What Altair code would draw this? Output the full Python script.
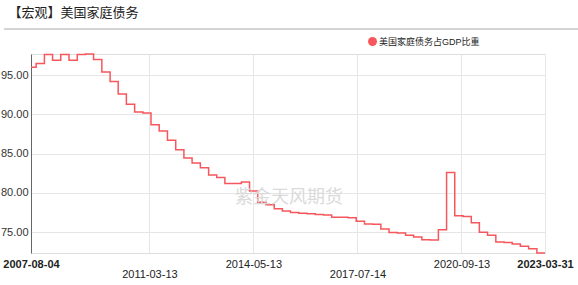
import altair as alt
import pandas as pd

title_text = "【宏观】美国家庭债务"
series_name = "美国家庭债务占GDP比重"
watermark = "紫金天风期货"

dates = [
    "2007-08-04", "2007-09-30", "2007-12-31",
    "2008-03-31", "2008-06-30", "2008-09-30", "2008-12-31",
    "2009-03-31", "2009-06-30", "2009-09-30", "2009-12-31",
    "2010-03-31", "2010-06-30", "2010-09-30", "2010-12-31",
    "2011-03-31", "2011-06-30", "2011-09-30", "2011-12-31",
    "2012-03-31", "2012-06-30", "2012-09-30", "2012-12-31",
    "2013-03-31", "2013-06-30", "2013-09-30", "2013-12-31",
    "2014-03-31", "2014-06-30", "2014-09-30", "2014-12-31",
    "2015-03-31", "2015-06-30", "2015-09-30", "2015-12-31",
    "2016-03-31", "2016-06-30", "2016-09-30", "2016-12-31",
    "2017-03-31", "2017-06-30", "2017-09-30", "2017-12-31",
    "2018-03-31", "2018-06-30", "2018-09-30", "2018-12-31",
    "2019-03-31", "2019-06-30", "2019-09-30", "2019-12-31",
    "2020-03-31", "2020-06-30", "2020-09-30", "2020-12-31",
    "2021-03-31", "2021-06-30", "2021-09-30", "2021-12-31",
    "2022-03-31", "2022-06-30", "2022-09-30", "2022-12-31",
    "2023-03-31",
]
values = [
    96.0, 96.5, 97.65,
    96.9, 97.65, 96.9, 97.65,
    97.7, 97.0, 95.4, 94.2,
    92.6, 91.3, 90.3, 90.2,
    88.7, 87.9, 86.7, 85.5,
    84.45, 83.8, 83.2, 82.3,
    81.96, 81.2, 81.2, 81.4,
    80.25, 78.8, 78.5, 78.0,
    77.7, 77.5, 77.4, 77.35,
    77.25, 77.2, 76.9, 76.9,
    76.85, 76.4, 76.05, 76.0,
    75.4, 74.95, 74.9, 74.6,
    74.4, 74.05, 74.0, 75.3,
    82.6, 77.1, 77.0, 76.2,
    75.0, 74.6, 73.75, 73.7,
    73.5, 73.2, 72.9, 72.35,
    72.35,
]
tick_dates = ["2007-08-04", "2011-03-13", "2014-05-13", "2017-07-14", "2020-09-13", "2023-03-31"]
y_ticks = [75, 80, 85, 90, 95]

df = pd.DataFrame({"date": dates, "value": values, "series": series_name})

def dt(s):
    y, m, d = (int(p) for p in s.split("-"))
    return alt.DateTime(year=y, month=m, date=d, utc=True)

line_color = "#f6575c"
font = "Liberation Sans, Noto Sans CJK SC"

x_axis = alt.Axis(
    values=[dt(s) for s in tick_dates],
    labelExpr="utcFormat(datum.value, '%Y-%m-%d')",
    title=None,
    domain=False,
    ticks=False,
    grid=True,
    gridColor="#e6e6e6",
    labelColor="#222",
    labelFontSize=11,
    labelOverlap=False,
    labelFlush=False,
    labelBound=False,
    labelFontWeight={"condition": {"test": "utcyear(datum.value) == 2007 || utcyear(datum.value) == 2023", "value": "bold"}, "value": "normal"},
    labelPadding={"condition": {"test": "utcyear(datum.value) == 2011 || utcyear(datum.value) == 2017", "value": 15}, "value": 5},
)

y_axis = alt.Axis(
    values=y_ticks,
    format=".2f",
    title=None,
    domain=True,
    domainColor="#666",
    ticks=False,
    grid=True,
    gridColor="#e6e6e6",
    labelColor="#333",
    labelFontSize=11,
    labelPadding=3,
)

line = alt.Chart(df).mark_line(interpolate="step-after", strokeWidth=1.5).encode(
    x=alt.X("date:T", scale=alt.Scale(type="utc", nice=False), axis=x_axis),
    y=alt.Y("value:Q", scale=alt.Scale(domain=[min(values), max(values)], nice=False, zero=False), axis=y_axis),
    color=alt.Color(
        "series:N",
        scale=alt.Scale(range=[line_color]),
        legend=alt.Legend(
            title=None,
            orient="none",
            legendX=337,
            legendY=-17,
            symbolType="circle",
            symbolFillColor=line_color,
            symbolStrokeWidth=0,
            symbolSize=80,
            symbolOffset=0,
            labelOffset=2,
            labelFontSize=9,
            labelColor="#222",
            labelFont=font,
        ),
    ),
)

wm = alt.Chart(alt.Data(values=[{"t": watermark}])).mark_text(
    fontSize=18, color="#dadada", font=font
).encode(text="t:N", x=alt.value(258), y=alt.value(144))

sep = alt.Chart(alt.Data(values=[{}])).mark_rule(color="#aaaaaa", strokeWidth=1).encode(
    x=alt.value(-27), x2=alt.value(547), y=alt.value(-25)
)

chart = alt.layer(line, wm, sep).properties(
    width=514,
    height=199,
    autosize="none",
    padding={"left": 31, "top": 54, "right": 33, "bottom": 32},
    title=alt.TitleParams(
        text=title_text,
        anchor="start",
        fontSize=13,
        fontWeight="normal",
        color="#222",
        font=font,
        dx=8,
        offset=9,
    ),
).configure_view(stroke=None).configure(font=font)

chart.save("out.html", embed_options={"renderer": "svg", "actions": False})
